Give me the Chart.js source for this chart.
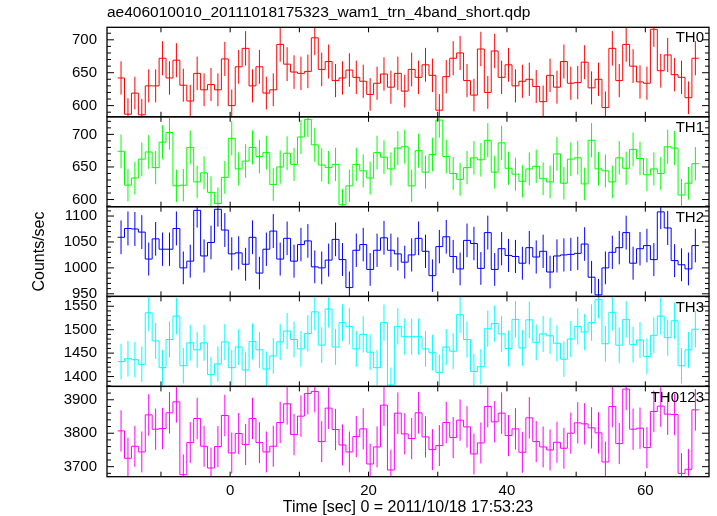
<!DOCTYPE html>
<html>
<head>
<meta charset="utf-8">
<script src="https://cdn.jsdelivr.net/npm/chart.js@4.4.1/dist/chart.umd.min.js"></script>
<style>
html,body{margin:0;padding:0;background:#fff;}
#wrap{position:relative;width:717px;height:516px;overflow:hidden;background:#fff;}
#wrap canvas{position:absolute;left:0;top:0;}
</style>
</head>
<body>
<div id="wrap"></div>
<script>
// ---------------- data ----------------
const TITLE = "ae406010010_20111018175323_wam1_trn_4band_short.qdp";
const X_TITLE = "Time [sec] 0 = 2011/10/18 17:53:23";
const Y_TITLE = "Counts/sec";
const SERIES_NAMES = ["TH0", "TH1", "TH2", "TH3", "TH0123"];
const COLORS = ["rgb(255,0,0)", "rgb(0,255,0)", "rgb(0,0,255)", "rgb(0,255,255)", "rgb(255,0,255)"];

const T_FIRST = -15.77;   // centre of first bin [s]
const BIN_WIDTH = 1.0;    // [s]
const X_MIN = -17.8, X_MAX = 69.2;
const X_LABEL_STEP = 20, X_TICK_STEP = 10;

const Y_MIN   = [583, 589, 945, 1379, 3670];
const Y_MAX   = [719, 727, 1118, 1571, 3940];
const Y_STEP  = [50, 50, 50, 50, 100];
const Y_MINOR = [10, 10, 10, 10, 20];

const TH0 = [642,587,619,586,630,630,672,642,669,631,
             607,649,624,632,624,671,600,659,687,630,
             659,619,624,693,663,651,649,652,703,655,
             667,638,642,654,643,637,617,634,648,628,
             649,622,655,643,662,646,593,644,672,680,
             638,616,686,620,683,643,662,630,637,640,
             629,606,646,628,667,634,635,666,627,640,
             597,687,638,693,660,636,634,716,653,677,
             647,643,612,672];
const TH1 = [674,622,633,662,673,649,688,703,621,622,
             680,627,641,611,594,634,694,647,659,680,
             666,672,623,650,671,654,696,723,684,653,
             649,654,592,621,654,644,633,672,665,647,
             679,681,621,675,642,669,722,666,640,631,
             649,664,661,691,642,687,648,639,628,647,
             651,632,627,670,625,662,664,624,691,647,
             644,627,664,648,677,663,638,647,640,681,
             679,607,625,655];
const TH2 = [1059,1076,1075,1069,1017,1056,1036,1036,1076,1000,
             1013,1111,1023,1049,1113,1073,1027,1029,1007,1059,
             990,1036,1071,1017,1057,1013,1045,1052,1002,1000,
             1015,1055,1016,962,1034,1045,997,1034,1058,1034,
             1027,1011,1025,1057,1032,985,1041,1060,1022,998,
             1053,1047,999,1068,997,1037,1024,1022,1009,1039,
             1021,1032,992,1023,1025,1026,1028,1046,982,948,
             1000,1030,1039,1068,1009,1037,1043,1016,1108,1077,
             1014,1006,998,1043];
const TH3 = [1432,1438,1436,1426,1536,1476,1419,1479,1529,1423,
             1472,1457,1472,1404,1427,1474,1419,1463,1414,1475,
             1457,1416,1444,1474,1497,1479,1459,1492,1538,1467,
             1544,1463,1515,1507,1459,1490,1452,1419,1515,1382,
             1507,1485,1485,1485,1459,1451,1409,1463,1454,1532,
             1479,1411,1421,1502,1513,1491,1460,1522,1461,1521,
             1473,1491,1487,1471,1437,1480,1507,1495,1515,1564,
             1470,1537,1467,1522,1468,1478,1443,1488,1529,1483,
             1519,1423,1457,1501];
const TH0123 = [3807,3725,3761,3744,3855,3812,3814,3861,3894,3676,
                3772,3844,3761,3696,3760,3853,3741,3799,3766,3844,
                3772,3744,3761,3832,3888,3796,3851,3919,3925,3775,
                3875,3811,3765,3744,3790,3813,3708,3759,3884,3690,
                3860,3798,3784,3861,3789,3751,3763,3832,3787,3839,
                3819,3738,3771,3880,3834,3860,3793,3813,3743,3846,
                3775,3759,3750,3773,3755,3800,3831,3828,3816,3801,
                3714,3880,3769,3932,3812,3815,3757,3865,3881,3857,
                3856,3680,3692,3870];
const SERIES = [TH0, TH1, TH2, TH3, TH0123];

// ---------------- layout ----------------
const W = 717, H = 516;
const PLOT_LEFT = 107, PLOT_RIGHT = 709;
const PANEL_EDGES = [27.3, 116.8, 206.7, 296.4, 386.4, 476.7];
const FONT = '"Liberation Sans", Arial, Helvetica, sans-serif';

Chart.defaults.font.family = FONT;
Chart.defaults.font.size = 15;
Chart.defaults.color = '#000';

const qdpPlugin = {
  id: 'qdpFrame',
  afterDatasetsDraw(chart, args, o) {
    const {ctx, chartArea: a} = chart;
    const x = chart.scales.x, y = chart.scales.y;
    ctx.save();
    ctx.strokeStyle = '#000';
    ctx.lineWidth = 1;
    ctx.beginPath();
    for (let v = Math.ceil(y.min / o.minor) * o.minor; v <= y.max; v += o.minor) {
      const py = y.getPixelForValue(v);
      const isMajor = Math.abs(v / o.major - Math.round(v / o.major)) < 1e-6;
      const len = isMajor ? 7 : 4;
      ctx.moveTo(a.left, py); ctx.lineTo(a.left + len, py);
      ctx.moveTo(a.right, py); ctx.lineTo(a.right - len, py);
    }
    for (let v = Math.ceil(x.min / X_TICK_STEP) * X_TICK_STEP; v <= x.max; v += X_TICK_STEP) {
      const px = x.getPixelForValue(v);
      ctx.moveTo(px, a.bottom); ctx.lineTo(px, a.bottom - 5);
      ctx.moveTo(px, a.top); ctx.lineTo(px, a.top + 5);
    }
    ctx.stroke();
    ctx.lineWidth = 1.3;
    ctx.strokeRect(a.left, a.top, a.right - a.left, a.bottom - a.top);
    ctx.fillStyle = '#000';
    ctx.font = '15px ' + FONT;
    ctx.textAlign = 'right';
    ctx.textBaseline = 'middle';
    ctx.fillText(o.label, a.right - 5, a.top + 11);
    if (o.title) {
      ctx.textAlign = 'left';
      ctx.font = '15.5px ' + FONT;
      ctx.fillText(o.title, a.left, 12.5);
    }
    ctx.restore();
  }
};

const plain = v => String(v);

const wrap = document.getElementById('wrap');
SERIES.forEach((vals, i) => {
  const cv = document.createElement('canvas');
  cv.width = W; cv.height = H;
  cv.style.width = W + 'px'; cv.style.height = H + 'px';
  wrap.appendChild(cv);
  const isBottom = i === SERIES.length - 1;

  const stepData = vals.map((v, k) => ({x: T_FIRST + k * BIN_WIDTH - BIN_WIDTH / 2, y: v}));
  stepData.push({x: T_FIRST + (vals.length - 1) * BIN_WIDTH + BIN_WIDTH / 2, y: vals[vals.length - 1]});
  const errData = [];
  vals.forEach((v, k) => {
    const t = T_FIRST + k * BIN_WIDTH, e = Math.sqrt(v * BIN_WIDTH) / BIN_WIDTH;
    errData.push({x: t, y: v - e}, {x: t, y: v + e}, {x: t, y: null});
  });

  const xScale = {
    type: 'linear', min: X_MIN, max: X_MAX,
    display: isBottom,
    grid: {display: false, drawTicks: false},
    border: {display: false},
    ticks: {stepSize: X_LABEL_STEP, includeBounds: false, padding: 5, font: {size: 15}, maxRotation: 0, autoSkip: false, callback: plain},
    title: {display: isBottom, text: X_TITLE, font: {size: 16}, padding: {top: 0, bottom: -1.6}}
  };
  if (isBottom) xScale.afterFit = s => { s.height = H - PANEL_EDGES[PANEL_EDGES.length - 1]; };

  new Chart(cv, {
    type: 'line',
    data: {
      datasets: [
        {data: stepData, borderColor: COLORS[i], borderWidth: 1, pointRadius: 0, stepped: true, clip: 0, tension: 0},
        {data: errData, borderColor: COLORS[i], borderWidth: 1, pointRadius: 0, spanGaps: false, clip: 0, tension: 0}
      ]
    },
    options: {
      responsive: false,
      animation: false,
      events: [],
      layout: {padding: {left: 0, right: W - PLOT_RIGHT, top: PANEL_EDGES[i], bottom: isBottom ? 0 : H - PANEL_EDGES[i + 1]}},
      plugins: {
        legend: {display: false},
        tooltip: {enabled: false},
        title: {display: false},
        qdpFrame: {label: SERIES_NAMES[i], major: Y_STEP[i], minor: Y_MINOR[i], title: i === 0 ? TITLE : null}
      },
      scales: {
        x: xScale,
        y: {
          type: 'linear', min: Y_MIN[i], max: Y_MAX[i],
          grid: {display: false, drawTicks: false},
          border: {display: false},
          ticks: {stepSize: Y_STEP[i], includeBounds: false, padding: 10, font: {size: 15}, autoSkip: false, callback: plain},
          title: {display: i === 2, text: Y_TITLE, font: {size: 16}, padding: {top: 30.4, bottom: 0}},
          afterFit: s => { s.width = PLOT_LEFT; }
        }
      }
    },
    plugins: [qdpPlugin]
  });
});
</script>
</body>
</html>
